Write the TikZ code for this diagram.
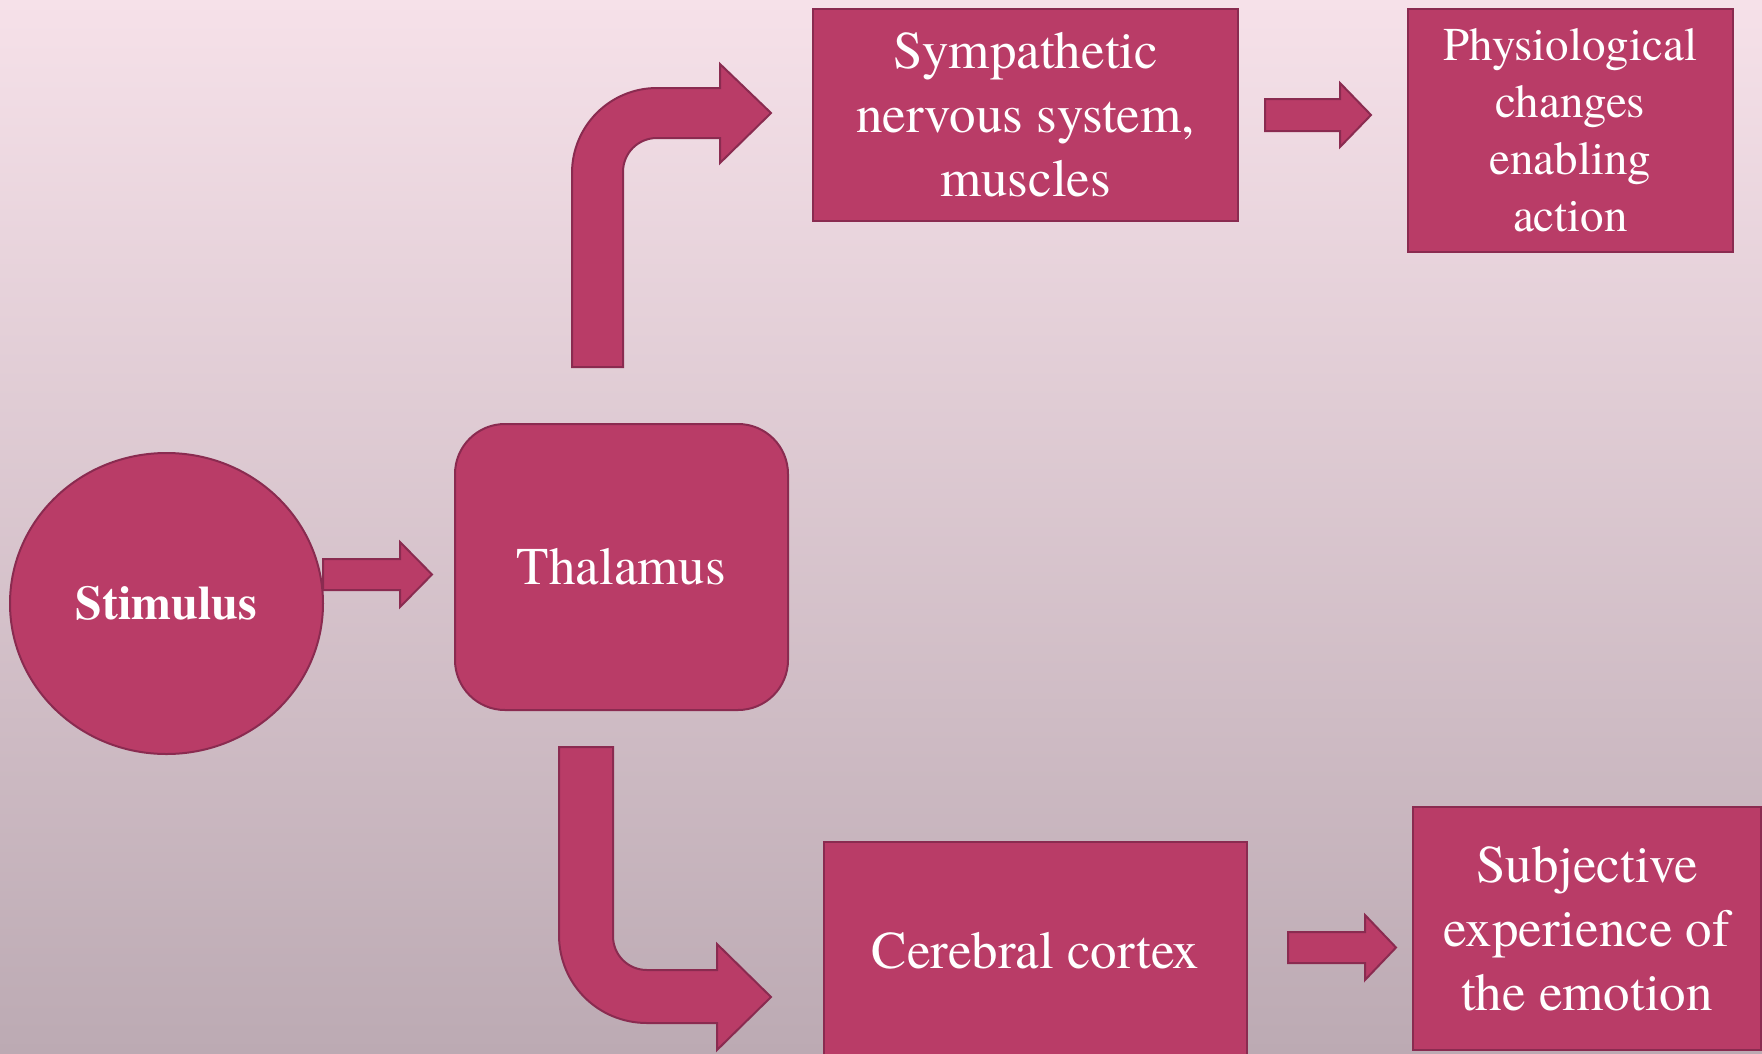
\documentclass[tikz,border=0pt]{standalone}
\usepackage{fontspec}
\setmainfont{texgyretermes}[Extension=.otf, UprightFont=*-regular, BoldFont=*-bold, ItalicFont=*-italic, BoldItalicFont=*-bolditalic]
\usetikzlibrary{shapes.geometric}
\definecolor{boxfill}{HTML}{B93C67}
\definecolor{boxline}{HTML}{8A2B50}
\definecolor{bgtop}{HTML}{F6E1E9}
\definecolor{bgmid}{HTML}{E6D3DB}
\definecolor{bgbot}{HTML}{BCAAB3}
\begin{document}
\begin{tikzpicture}[x=1pt,y=-1pt,
  shapebox/.style={fill=boxfill, draw=boxline, line width=2pt, text=white, align=center, inner sep=0pt},
  bigtext/.style={font=\fontsize{53}{64}\selectfont},
  midtext/.style={font=\fontsize{47}{57}\selectfont},
  blockarrow/.style={fill=boxfill, draw=boxline, line width=2pt, line join=miter}]
\useasboundingbox (0,0) rectangle (1762,1053);
\clip (0,0) rectangle (1762,1053);
\fill[top color=bgtop, middle color=bgmid, bottom color=bgbot] (0,0) rectangle (1762,1053);

% nodes
\node[shapebox, ellipse, minimum width=313pt, minimum height=301pt,
      font=\fontsize{48}{58}\selectfont\bfseries] (stim) at (166.5,603.5) {\raisebox{-3pt}{Stimulus}};
\node[shapebox, rounded corners=50pt, minimum width=333pt, minimum height=286pt, bigtext]
      (thal) at (621.5,567) {\raisebox{-2pt}{Thalamus}};
\node[shapebox, minimum width=425pt, minimum height=212pt, bigtext]
      (symp) at (1025.5,115) {Sympathetic\\nervous system,\\muscles};
\node[shapebox, minimum width=325pt, minimum height=243pt, midtext]
      (phys) at (1570.5,130.5) {Physiological\\changes\\enabling\\action};
\node[shapebox, minimum width=423pt, minimum height=218pt, bigtext]
      (cortex) at (1035.5,951) {Cerebral cortex};
\node[shapebox, minimum width=348pt, minimum height=243pt, bigtext]
      (subj) at (1587,928.5) {Subjective\\experience of\\the emotion};

% straight block arrows
\draw[blockarrow] (323,559) -- (400,559) -- (400,542) -- (432,574.5) -- (400,607) -- (400,590) -- (323,590) -- cycle;
\draw[blockarrow] (1265,99) -- (1340,99) -- (1340,83) -- (1371,115) -- (1340,147) -- (1340,131) -- (1265,131) -- cycle;
\draw[blockarrow] (1288,932) -- (1365,932) -- (1365,915) -- (1396,947.5) -- (1365,980) -- (1365,963) -- (1288,963) -- cycle;

% upper bent arrow (thalamus -> sympathetic)
\draw[blockarrow] (572,367) -- (572,173) .. controls (572,126) and (610,88) .. (657,88)
  -- (720,88) -- (720,64) -- (771,113) -- (720,163) -- (720,138) -- (657,138)
  .. controls (638,138) and (623,153) .. (623,172) -- (623,367) -- cycle;

% lower bent arrow (thalamus -> cortex)
\draw[blockarrow] (559,747) -- (559,935) .. controls (559,984) and (598,1023) .. (647,1023)
  -- (717,1023) -- (717,1050) -- (771,997) -- (717,944) -- (717,970) -- (647,970)
  .. controls (628,970) and (613,955) .. (613,936) -- (613,747) -- cycle;
\end{tikzpicture}
\end{document}
